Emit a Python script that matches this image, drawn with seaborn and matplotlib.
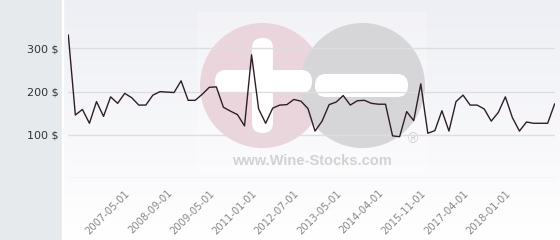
import numpy as np
import pandas as pd
import matplotlib
matplotlib.use("Agg")
import matplotlib.pyplot as plt
from matplotlib.patches import Circle, FancyBboxPatch, Rectangle
from matplotlib.colors import LinearSegmentedColormap
import seaborn as sns

# ---- data ----
prices = [331, 146, 159, 127, 177, 143, 188, 173, 196, 186,
          169, 169, 192, 200, 199, 198, 225, 180, 180, 194,
          210, 211, 164, 155, 147, 121, 285, 160, 127, 162,
          169, 170, 182, 178, 161, 109, 132, 170, 176, 191,
          169, 179, 180, 173, 171, 171, 98, 96, 154, 133,
          218, 104, 110, 156, 109, 177, 192, 169, 169, 160,
          132, 152, 188, 140, 109, 130, 127, 127, 127, 172]
tick_index = [9, 15, 21, 27, 33, 39, 45, 51, 57, 63]
tick_labels = ["2007-05-01", "2008-09-01", "2009-05-01", "2011-01-01",
               "2012-07-01", "2013-05-01", "2014-04-01", "2015-11-01",
               "2017-04-01", "2018-01-01"]
y_ticks = [0, 100, 200, 300]
y_tick_labels = ["", "100 $", "200 $", "300 $"]

df = pd.DataFrame({"idx": np.arange(len(prices)), "price": prices})

sns.set_theme(style="white")
plt.rcParams["font.family"] = ["DejaVu Sans"]

W, H = 560, 240
fig = plt.figure(figsize=(W / 100, H / 100), dpi=100)
fig.patch.set_facecolor("#e6eaed")

# background / watermark layer in pixel coordinates
bg = fig.add_axes([0, 0, 1, 1], zorder=0)
bg.set_xlim(0, W)
bg.set_ylim(H, 0)
bg.axis("off")
grad = np.linspace(0, 1, 256).reshape(-1, 1)
cmap = LinearSegmentedColormap.from_list("g", ["#eeeff4", "#ffffff"])
bg.imshow(grad, cmap=cmap, aspect="auto", extent=(63, W, H, 0), zorder=0)
bg.add_patch(Rectangle((62, 0), 1.2, H, color="white", zorder=1))
bg.add_patch(Rectangle((197, 12), 230, 161, color="white", alpha=0.25, lw=0, zorder=1))
# logo approximation
bg.add_patch(Circle((262.5, 85.5), 62.5, color="#ebd5dc", lw=0, zorder=2))
bg.add_patch(Circle((362.5, 85.5), 62.5, color="#d6d6d8", lw=0, zorder=3))
bg.add_patch(FancyBboxPatch((252, 38), 21, 95, boxstyle="round,pad=0,rounding_size=10",
                            color="white", lw=0, zorder=4))
bg.add_patch(FancyBboxPatch((215, 70), 97, 23, boxstyle="round,pad=0,rounding_size=11",
                            color="white", lw=0, zorder=4))
bg.add_patch(FancyBboxPatch((315, 74), 93, 23, boxstyle="round,pad=0,rounding_size=11",
                            color="white", lw=0, zorder=4))
bg.text(312, 161, "www.Wine-Stocks.com", ha="center", va="center",
        fontsize=10.5, fontweight="bold", color="#d2d2d2",
        family=["Liberation Sans", "DejaVu Sans"], zorder=5)
bg.text(413, 139, "\u00ae", ha="center", va="center", fontsize=10,
        color="#d0d0d0", family=["Liberation Sans", "DejaVu Sans"], zorder=5)

# main chart
left, right = 68.3, 554.7
top, bottom = 5.0, 178.3
ax = fig.add_axes([left / W, (H - bottom) / H, (right - left) / W, (bottom - top) / H], zorder=2)
ax.patch.set_alpha(0)
sns.lineplot(data=df, x="idx", y="price", ax=ax, color="#2f1e29", linewidth=1.0)
ax.set_xlim(0, len(prices) - 1)
ax.set_ylim(0, 400)
ax.set_yticks(y_ticks)
ax.set_yticklabels(y_tick_labels)
ax.set_xticks(tick_index)
ax.set_xticklabels(tick_labels, rotation=45, ha="right", va="top")
ax.grid(axis="y", color="#dedede", linewidth=1.0)
ax.grid(axis="x", visible=False)
for s in ax.spines.values():
    s.set_visible(False)
ax.set_xlabel("")
ax.set_ylabel("")
ax.tick_params(axis="y", length=0, pad=7, labelsize=8, labelcolor="#333333")
ax.tick_params(axis="x", length=0, pad=7, labelsize=7.2, labelcolor="#888888")

fig.savefig("out.png", dpi=100)
